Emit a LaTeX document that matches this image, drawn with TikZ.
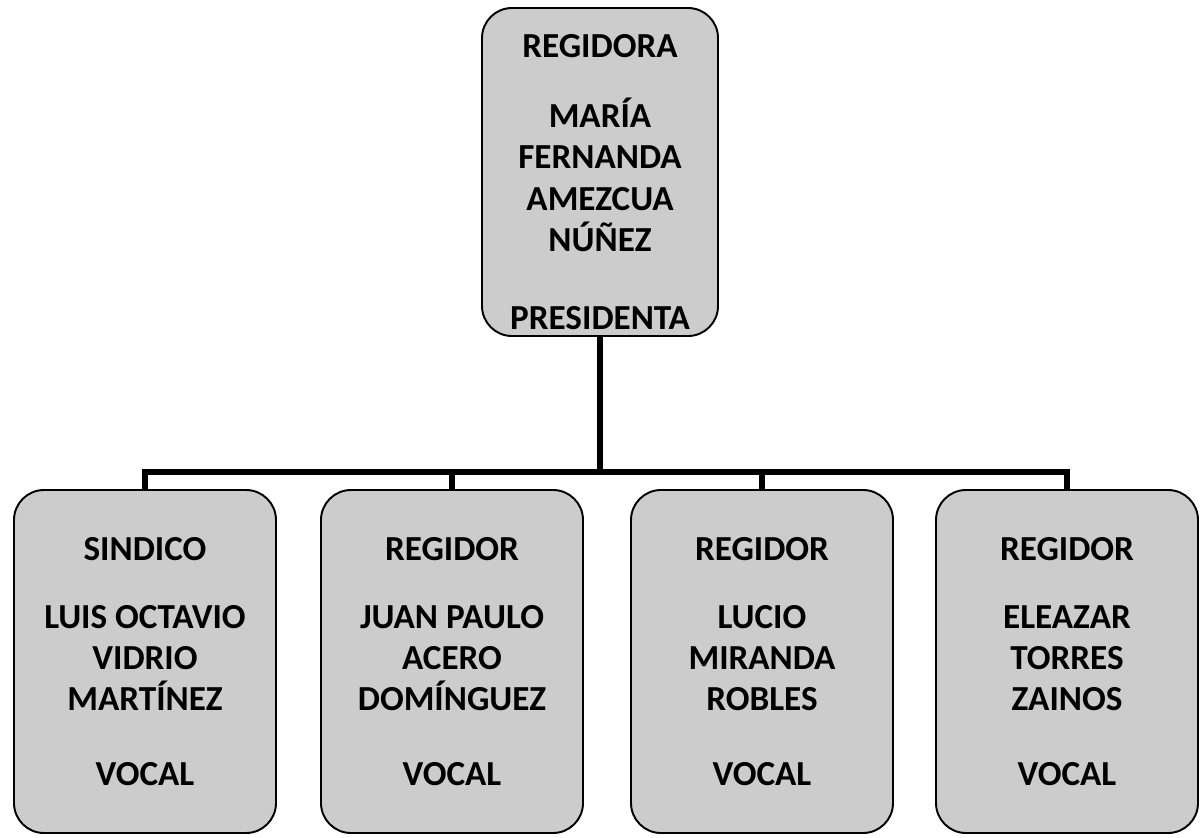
\documentclass[tikz,border=0pt]{standalone}
\usepackage{fontspec}
\setmainfont{Carlito}
\usepackage{tikz}

\tikzset{
	cargo/.style={draw=black, line width=1.1pt, rounded corners=0.6cm, fill=gray!40, inner sep=0pt},
	texto/.style={align=center, font=\bfseries\fontsize{20}{23.5}\selectfont, inner sep=0pt},
	linea/.style={line width=3pt}
}

\begin{document}
\begin{tikzpicture}
	% page size (1201 x 837 px at 0.02cm)
	\useasboundingbox (0,0) rectangle (24.02,-16.74);
	% the top box
	\node[cargo, minimum width=4.72cm, minimum height=6.56cm] (pres) at (12.0,-3.44) {};
	\node[texto] (presTxt) at ([yshift=-0.2cm]pres.center)
		{REGIDORA\\[16.5pt] MARÍA\\ FERNANDA\\ AMEZCUA\\ NÚÑEZ\\[21pt] PRESIDENTA};
	% the four boxes below
	\node[cargo, minimum width=5.24cm, minimum height=6.86cm] (sind) at (2.9,-13.23) {};
	\node[texto] (sindTxt) at (sind.center)
		{SINDICO\\[15pt] LUIS OCTAVIO\\ VIDRIO\\ MARTÍNEZ\\[19pt] VOCAL};
	\node[cargo, minimum width=5.24cm, minimum height=6.86cm] (reg1) at (9.04,-13.23) {};
	\node[texto] (reg1Txt) at (reg1.center)
		{REGIDOR\\[15pt] JUAN PAULO\\ ACERO\\ DOMÍNGUEZ\\[19pt] VOCAL};
	\node[cargo, minimum width=5.24cm, minimum height=6.86cm] (reg2) at (15.24,-13.23) {};
	\node[texto] (reg2Txt) at (reg2.center)
		{REGIDOR\\[15pt] LUCIO\\ MIRANDA\\ ROBLES\\[19pt] VOCAL};
	\node[cargo, minimum width=5.24cm, minimum height=6.86cm] (reg3) at (21.34,-13.23) {};
	\node[texto] (reg3Txt) at (reg3.center)
		{REGIDOR\\[15pt] ELEAZAR\\ TORRES\\ ZAINOS\\[19pt] VOCAL};
	% the connectors
	\coordinate (bar) at (12.0,-9.44);
	\draw[linea] (pres.south) -- (bar);
	\draw[linea] (sind.north) |- (bar) -| (reg3.north);
	\draw[linea] (reg1.north) -- (reg1.north |- bar);
	\draw[linea] (reg2.north) -- (reg2.north |- bar);
\end{tikzpicture}
\end{document}
